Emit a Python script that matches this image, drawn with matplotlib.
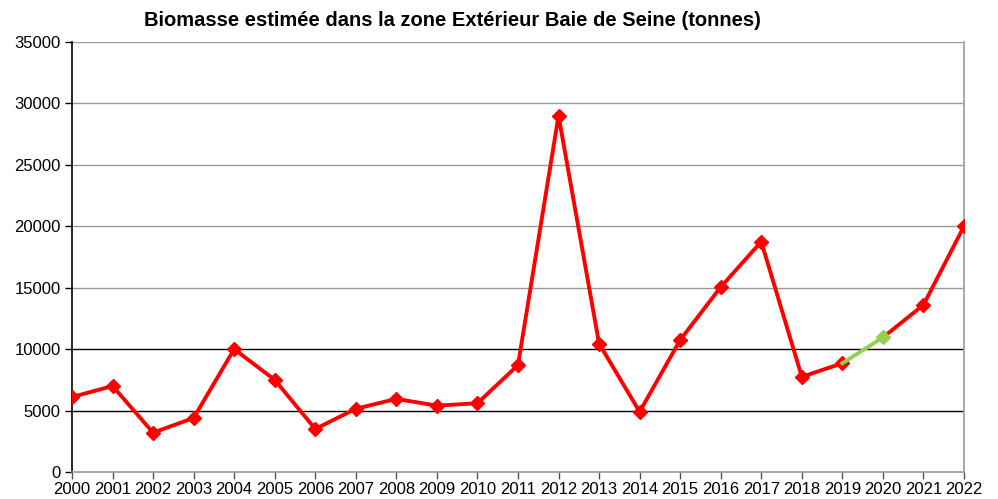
import numpy as np
import matplotlib.pyplot as plt

plt.rcParams['font.family'] = ['Liberation Sans', 'DejaVu Sans']

years = list(range(2000, 2023))
biomasse = [6100, 7000, 3200, 4400, 10000, 7500, 3500, 5150, 5950, 5400,
            5600, 8700, 29000, 10450, 4900, 10750, 15050, 18750, 7750, 8850,
            10950, 13600, 20000]
# segment 2019-2020 drawn in green
i_green = years.index(2019)

RED = '#ff0000'
GREEN = '#92d050'

fig = plt.figure(figsize=(9.98, 4.99), dpi=100)
ax = fig.add_axes([72/998, 1 - 472/499, (964 - 72)/998, (472 - 42)/499])

for y in range(5000, 35001, 5000):
    col = 'black' if y <= 10000 else '#999999'
    ax.axhline(y, color=col, lw=1.0, zorder=1)

x = np.array(years)
v = np.array(biomasse)
ax.plot(x[:i_green + 1], v[:i_green + 1], color=RED, lw=2.8, marker='D', ms=7.5,
        zorder=3)
ax.plot(x[i_green:i_green + 2], v[i_green:i_green + 2], color=GREEN, lw=2.8, zorder=3)
ax.plot(x[i_green + 1], v[i_green + 1], color=GREEN, marker='D', ms=7.5, ls='none',
        zorder=4)
ax.plot(x[i_green + 1:], v[i_green + 1:], color=RED, lw=2.8, zorder=3)
ax.plot(x[i_green + 2:], v[i_green + 2:], color=RED, marker='D', ms=7.5, ls='none',
        zorder=4)

ax.set_xlim(2000, 2022)
ax.set_ylim(0, 35000)
ax.set_xticks(years)
ax.set_xticklabels([str(y) for y in years])
ax.set_yticks(range(0, 35001, 5000))

ax.spines['top'].set_visible(False)
ax.spines['left'].set_color('black')
ax.spines['left'].set_linewidth(1.2)
ax.spines['bottom'].set_color('#999999')
ax.spines['bottom'].set_linewidth(1.2)
ax.spines['right'].set_color('#999999')
ax.spines['right'].set_linewidth(1.2)
for sp in ax.spines.values():
    sp.set_zorder(2)

ax.tick_params(axis='both', direction='out', length=5, width=1, labelsize=12,
               colors='black', pad=3)
ax.tick_params(axis='x', color='#555555', pad=2)

fig.text(452/998, 1 - 20/499, 'Biomasse estimée dans la zone Extérieur Baie de Seine (tonnes)',
         ha='center', va='center', fontsize=14.5, fontweight='bold')

fig.savefig('out.png', dpi=100)
